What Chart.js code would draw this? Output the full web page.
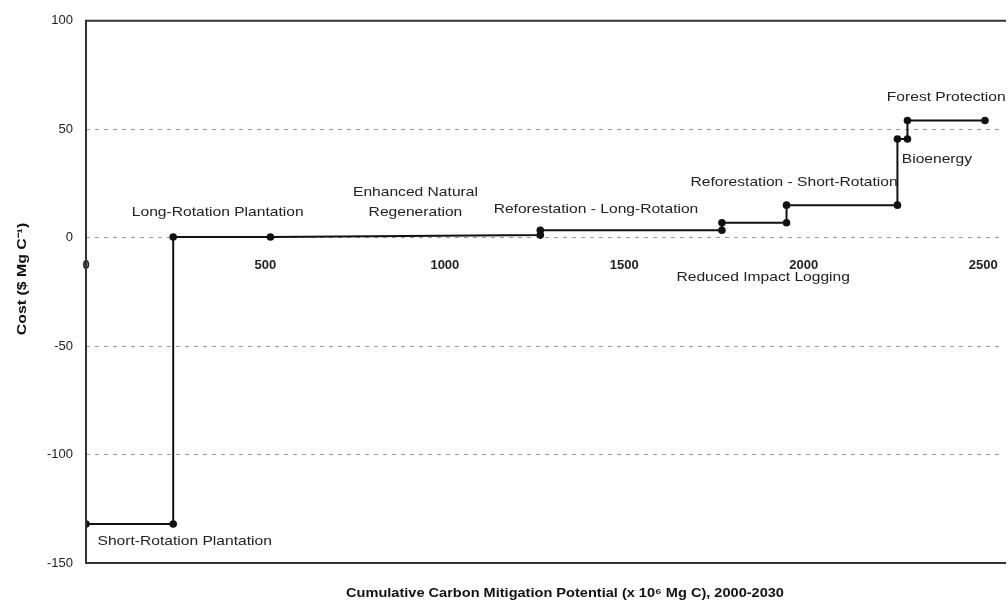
<!DOCTYPE html>
<html>
<head>
<meta charset="utf-8">
<script src="https://cdn.jsdelivr.net/npm/chart.js@4/dist/chart.umd.min.js"></script>
<style>
  html, body { margin: 0; padding: 0; background: #fff; overflow: hidden; }
  #wrap { width: 1008px; height: 606px; }
</style>
</head>
<body>
<div id="wrap"><canvas id="cost-chart" width="1008" height="606"></canvas></div>
<script>
// cumulative potential (x 10^6 Mg C) and cost ($ Mg C-1) at each corner of the step curve
const potential = [0, 243, 243, 514, 1266, 1266, 1772, 1772, 1952, 1952, 2261, 2261, 2289, 2289, 2505];
const cost = [-132, -132, 0.3, 0.3, 1.2, 3.4, 3.4, 6.9, 6.9, 15, 15, 45.5, 45.5, 54, 54];

// tick values
const xTicks = [0, 500, 1000, 1500, 2000, 2500];
const yTicks = [100, 50, 0, -50, -100, -150];

// activity labels, anchored in data units
const activityNames = [
  "Long-Rotation Plantation",
  "Enhanced Natural",
  "Regeneration",
  "Reforestation - Long-Rotation",
  "Reforestation - Short-Rotation",
  "Bioenergy",
  "Forest Protection",
  "Reduced Impact Logging",
  "Short-Rotation Plantation",
];
const activityX = [367, 918, 918, 1421, 1973, 2371, 2397, 1887, 275];
const activityY = [11.5, 20.7, 11.8, 13.2, 25.6, 36.3, 64.9, -18.5, -140];

const xTitle = "Cumulative Carbon Mitigation Potential (x 10\u2076 Mg C), 2000-2030";
const yTitle = "Cost ($ Mg C\u207B\u00B9)";

Chart.defaults.font.family = "'Liberation Sans', Arial, sans-serif";
Chart.defaults.color = "#222";

// text stretched sideways like the scanned figure
function wideText(ctx, text, x, y, stretch) {
  ctx.save();
  ctx.translate(x, y);
  ctx.scale(stretch, 1);
  ctx.fillText(text, 0, 0);
  ctx.restore();
}

// frame, activity names and axis titles
const decorPlugin = {
  id: "decor",
  afterDraw(chart) {
    const { ctx, chartArea, scales } = chart;
    ctx.save();
    // frame (left, top, bottom)
    ctx.strokeStyle = "#333";
    ctx.lineWidth = 2;
    ctx.beginPath();
    ctx.moveTo(chartArea.right + 2, chartArea.top);
    ctx.lineTo(chartArea.left, chartArea.top);
    ctx.lineTo(chartArea.left, chartArea.bottom);
    ctx.lineTo(chartArea.right + 2, chartArea.bottom);
    ctx.stroke();

    // activity names
    ctx.fillStyle = "#222";
    ctx.font = "13px 'Liberation Sans', Arial, sans-serif";
    ctx.textAlign = "center";
    ctx.textBaseline = "middle";
    activityNames.forEach((name, i) => {
      wideText(ctx, name, scales.x.getPixelForValue(activityX[i]), scales.y.getPixelForValue(activityY[i]), 1.2);
    });

    // axis titles
    ctx.fillStyle = "#111";
    ctx.font = "bold 13px 'Liberation Sans', Arial, sans-serif";
    wideText(ctx, xTitle, 565, 593, 1.12);
    ctx.translate(22, 279);
    ctx.rotate(-Math.PI / 2);
    wideText(ctx, yTitle, 0, 0, 1.22);
    ctx.restore();
  },
};

new Chart(document.querySelector("#cost-chart"), {
  type: "line",
  data: {
    datasets: [
      {
        data: potential.map((x, i) => ({ x, y: cost[i] })),
        borderColor: "#111",
        borderWidth: 2,
        pointRadius: 3.8,
        pointBackgroundColor: "#111",
        pointBorderColor: "#111",
        pointBorderWidth: 0,
        tension: 0,
      },
    ],
  },
  options: {
    responsive: false,
    animation: false,
    layout: { padding: { left: 0, top: 19, right: 0, bottom: 43 } },
    plugins: {
      legend: { display: false },
      tooltip: { enabled: false },
    },
    scales: {
      x: {
        type: "linear",
        position: { y: 0 },
        min: 0,
        max: 2558,
        afterBuildTicks: (scale) => {
          scale.ticks = xTicks.map((value) => ({ value }));
        },
        afterFit: (scale) => {
          scale.height = 0;
          scale.paddingLeft = 0;
          scale.paddingRight = 0;
        },
        grid: { display: false, drawTicks: false },
        border: { display: false },
        ticks: {
          padding: 20,
          maxRotation: 0,
          color: "#222",
          font: { size: 13, weight: "bold" },
          callback: (value) => String(value),
        },
      },
      y: {
        type: "linear",
        min: -150,
        max: 100,
        afterBuildTicks: (scale) => {
          scale.ticks = yTicks.map((value) => ({ value }));
        },
        afterFit: (scale) => {
          scale.width = 86;
        },
        grid: {
          drawTicks: false,
          color: (c) => (c.tick.value === 100 || c.tick.value === -150 ? "rgba(0,0,0,0)" : "#9a9a9a"),
          lineWidth: 1,
        },
        border: { display: false, dash: [4, 5] },
        ticks: {
          padding: 13,
          color: "#222",
          font: { size: 13 },
        },
      },
    },
  },
  plugins: [decorPlugin],
});
</script>
</body>
</html>
